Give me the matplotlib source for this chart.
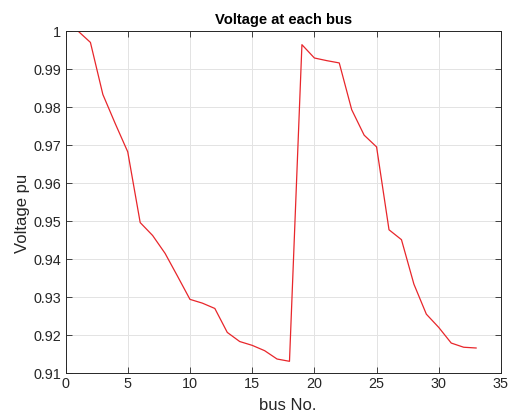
import matplotlib
matplotlib.use("Agg")
import matplotlib.pyplot as plt

bus = list(range(1, 34))
voltage = [1.0000, 0.9970, 0.9833, 0.9756, 0.9682, 0.9496, 0.9462, 0.9415, 0.9355, 0.9294,
           0.9284, 0.9270, 0.9207, 0.9183, 0.9173, 0.9159, 0.9137, 0.9131, 0.9964, 0.9929,
           0.9922, 0.9916, 0.9793, 0.9726, 0.9695, 0.9477, 0.9451, 0.9334, 0.9255, 0.9220,
           0.9179, 0.9168, 0.9166]
xticks = [0, 5, 10, 15, 20, 25, 30, 35]
yticks = [0.91, 0.92, 0.93, 0.94, 0.95, 0.96, 0.97, 0.98, 0.99, 1.0]
ytick_labels = ['0.91', '0.92', '0.93', '0.94', '0.95', '0.96', '0.97', '0.98', '0.99', '1']

plt.rcParams['font.family'] = ['Liberation Sans', 'DejaVu Sans']

fig = plt.figure(figsize=(5.12, 4.15), dpi=100)
ax = fig.add_axes([0.128, 0.101, 0.8505, 0.8243])
ax.plot(bus, voltage, color='#e8262b', linewidth=0.9)
ax.set_xlim(0, 35)
ax.set_ylim(0.91, 1.0)
ax.set_xticks(xticks)
ax.set_yticks(yticks)
ax.set_yticklabels(ytick_labels)
ax.grid(True, color='#e3e3e3', linewidth=0.7)
ax.set_axisbelow(True)
ax.tick_params(direction='in', top=True, right=True, length=4, width=0.6,
               labelsize=10.4, colors='#262626', pad=3)
for s in ax.spines.values():
    s.set_color('#262626')
    s.set_linewidth(0.7)
ax.set_title('Voltage at each bus', fontsize=10.6, fontweight='bold', pad=5)
ax.set_xlabel('bus No.', fontsize=12, color='#262626')
ax.set_ylabel('Voltage pu', fontsize=12, color='#262626')
ax.xaxis.set_label_coords(0.5095, -0.073)
ax.yaxis.set_label_coords(-0.082, 0.468)
fig.savefig('out.png', dpi=100)
